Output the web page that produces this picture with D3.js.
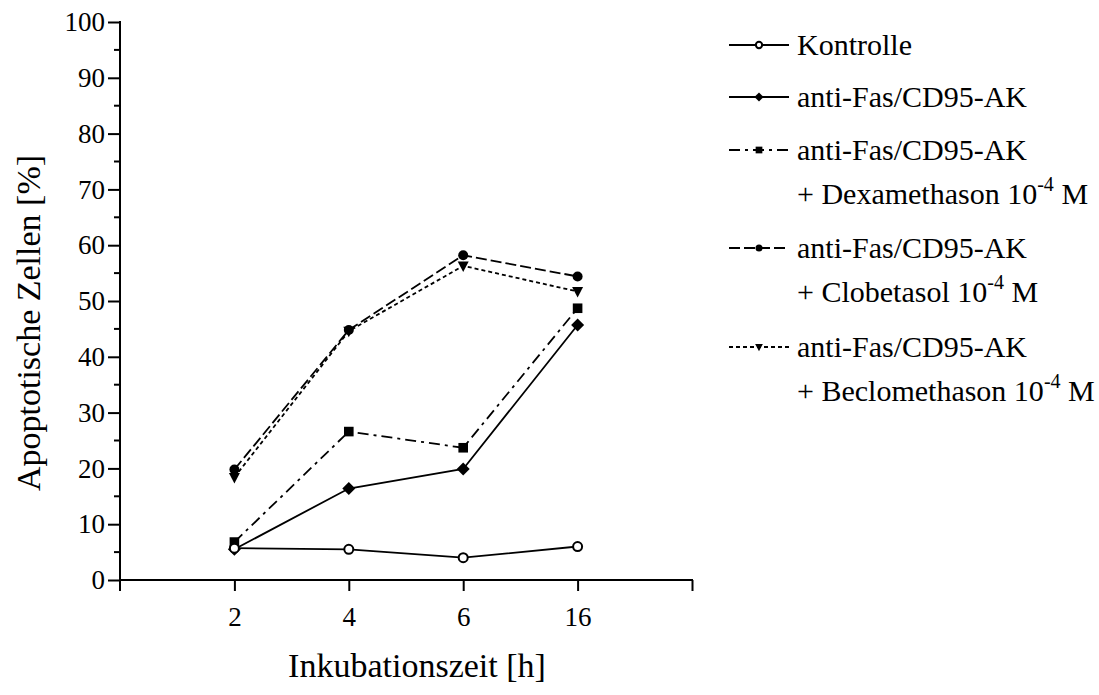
<!DOCTYPE html>
<html><head><meta charset="utf-8">
<script src="https://cdn.jsdelivr.net/npm/d3@7"></script>
<style>body{margin:0;background:#fff;}</style></head>
<body><svg id="c" width="1099" height="695"></svg>
<script>
const categories = ["2","4","6","16"];
const yTicks = [0,10,20,30,40,50,60,70,80,90,100];
const kontrolle = [5.7, 5.5, 4.0, 6.0];
const antiFas = [5.5, 16.4, 19.9, 45.7];
const dexa = [6.8, 26.6, 23.7, 48.7];
const clob = [19.8, 44.8, 58.2, 54.4];
const beclo = [18.4, 44.6, 56.3, 51.7];
const seriesNames = ["Kontrolle","anti-Fas/CD95-AK","anti-Fas/CD95-AK","anti-Fas/CD95-AK","anti-Fas/CD95-AK"];
const seriesSub = [null,null,"+ Dexamethason 10","+ Clobetasol 10","+ Beclomethason 10"];
const xTitle = "Inkubationszeit [h]";
const yTitle = "Apoptotische Zellen [%]";

const FONT = "'Liberation Serif'";

const series = [
  {values:kontrolle, dash:null, marker:"openCircle"},
  {values:antiFas, dash:null, marker:"diamond"},
  {values:dexa, dash:"11,5,3,5", marker:"square"},
  {values:clob, dash:"11,4", marker:"circle"},
  {values:beclo, dash:"4,3", marker:"triangle"}
];

const svg = d3.select("#c");
const x = d3.scaleLinear().domain([0,5]).range([120,692]);
const y = d3.scaleLinear().domain([0,100]).range([580,22]);

// y axis
const yAx = svg.append("g").attr("transform","translate(120,0)")
  .call(d3.axisLeft(y).tickValues(yTicks).tickSize(12).tickPadding(3).tickSizeOuter(0));
yAx.attr("font-family",null);
yAx.select(".domain").remove();
yAx.selectAll(".tick line").attr("stroke","#000").attr("stroke-width",2);
yAx.selectAll(".tick text").style("font-size","27px").style("font-family",FONT).attr("fill","#000");
// minor ticks
svg.append("g").selectAll("line").data(d3.range(5,100,10)).join("line")
  .attr("x1",114).attr("x2",120).attr("y1",d=>y(d)).attr("y2",d=>y(d))
  .attr("stroke","#000").attr("stroke-width",2);
svg.append("line").attr("x1",120).attr("x2",120).attr("y1",y(100)-1).attr("y2",591)
  .attr("stroke","#000").attr("stroke-width",2);

// x axis
const xAx = svg.append("g").attr("transform","translate(0,580)")
  .call(d3.axisBottom(x).tickValues([1,2,3,4,5]).tickFormat(d=>categories[d-1]||"").tickSize(11).tickPadding(16).tickSizeOuter(0));
xAx.attr("font-family",null);
xAx.select(".domain").remove();
xAx.selectAll(".tick line").attr("stroke","#000").attr("stroke-width",2);
xAx.selectAll(".tick text").style("font-size","27px").style("font-family",FONT).attr("fill","#000");
svg.append("line").attr("x1",119).attr("x2",693).attr("y1",580).attr("y2",580)
  .attr("stroke","#000").attr("stroke-width",2);

// titles
svg.append("text").attr("x",417).attr("y",677).attr("text-anchor","middle")
  .style("font-size","34px").style("font-family",FONT).text(xTitle);
svg.append("text").attr("transform","translate(40,323) rotate(-90)").attr("text-anchor","middle")
  .style("font-size","34px").style("font-family",FONT).text(yTitle);

function drawMarker(g, type, cx, cy, s){
  if(type==="openCircle"){
    g.append("circle").attr("cx",cx).attr("cy",cy).attr("r",4.5*s).attr("fill","#fff").attr("stroke","#000").attr("stroke-width",2);
  } else if(type==="circle"){
    g.append("circle").attr("cx",cx).attr("cy",cy).attr("r",5*s).attr("fill","#000");
  } else if(type==="diamond"){
    const r=6.5*s;
    g.append("path").attr("d",`M${cx},${cy-r}L${cx+r},${cy}L${cx},${cy+r}L${cx-r},${cy}Z`).attr("fill","#000");
  } else if(type==="square"){
    const r=4.8*s;
    g.append("rect").attr("x",cx-r).attr("y",cy-r).attr("width",2*r).attr("height",2*r).attr("fill","#000");
  } else if(type==="triangle"){
    const r=5.5*s;
    g.append("path").attr("d",`M${cx-r},${cy-r*0.8}L${cx+r},${cy-r*0.8}L${cx},${cy+r*1.1}Z`).attr("fill","#000");
  }
}

const line = d3.line().x((d,i)=>x(i+1)).y(d=>y(d));
const plot = svg.append("g");
series.slice().reverse().forEach(s=>{
  plot.append("path").attr("d",line(s.values)).attr("fill","none").attr("stroke","#000")
    .attr("stroke-width",1.8).attr("stroke-dasharray",s.dash);
});
series.slice().reverse().forEach(s=>{
  s.values.forEach((v,i)=>drawMarker(plot,s.marker,x(i+1),y(v),1));
});

// legend
const legBase = [55,107,160,258,357];
const lg = svg.append("g");
series.forEach((s,i)=>{
  const ly = legBase[i]-10;
  lg.append("line").attr("x1",729).attr("x2",789).attr("y1",ly).attr("y2",ly)
    .attr("stroke","#000").attr("stroke-width",1.8).attr("stroke-dasharray",s.dash);
  drawMarker(lg,s.marker,759,ly,0.7);
  lg.append("text").attr("x",797).attr("y",legBase[i]).style("font-size","30px").style("font-family",FONT).text(seriesNames[i]);
  if(seriesSub[i]){
    const t = lg.append("text").attr("x",797).attr("y",legBase[i]+44).style("font-size","30px").style("font-family",FONT);
    t.append("tspan").text(seriesSub[i]);
    t.append("tspan").attr("dy",-13).style("font-size","20px").text("-4");
    t.append("tspan").attr("dy",13).text(" M");
  }
});
</script></body></html>
